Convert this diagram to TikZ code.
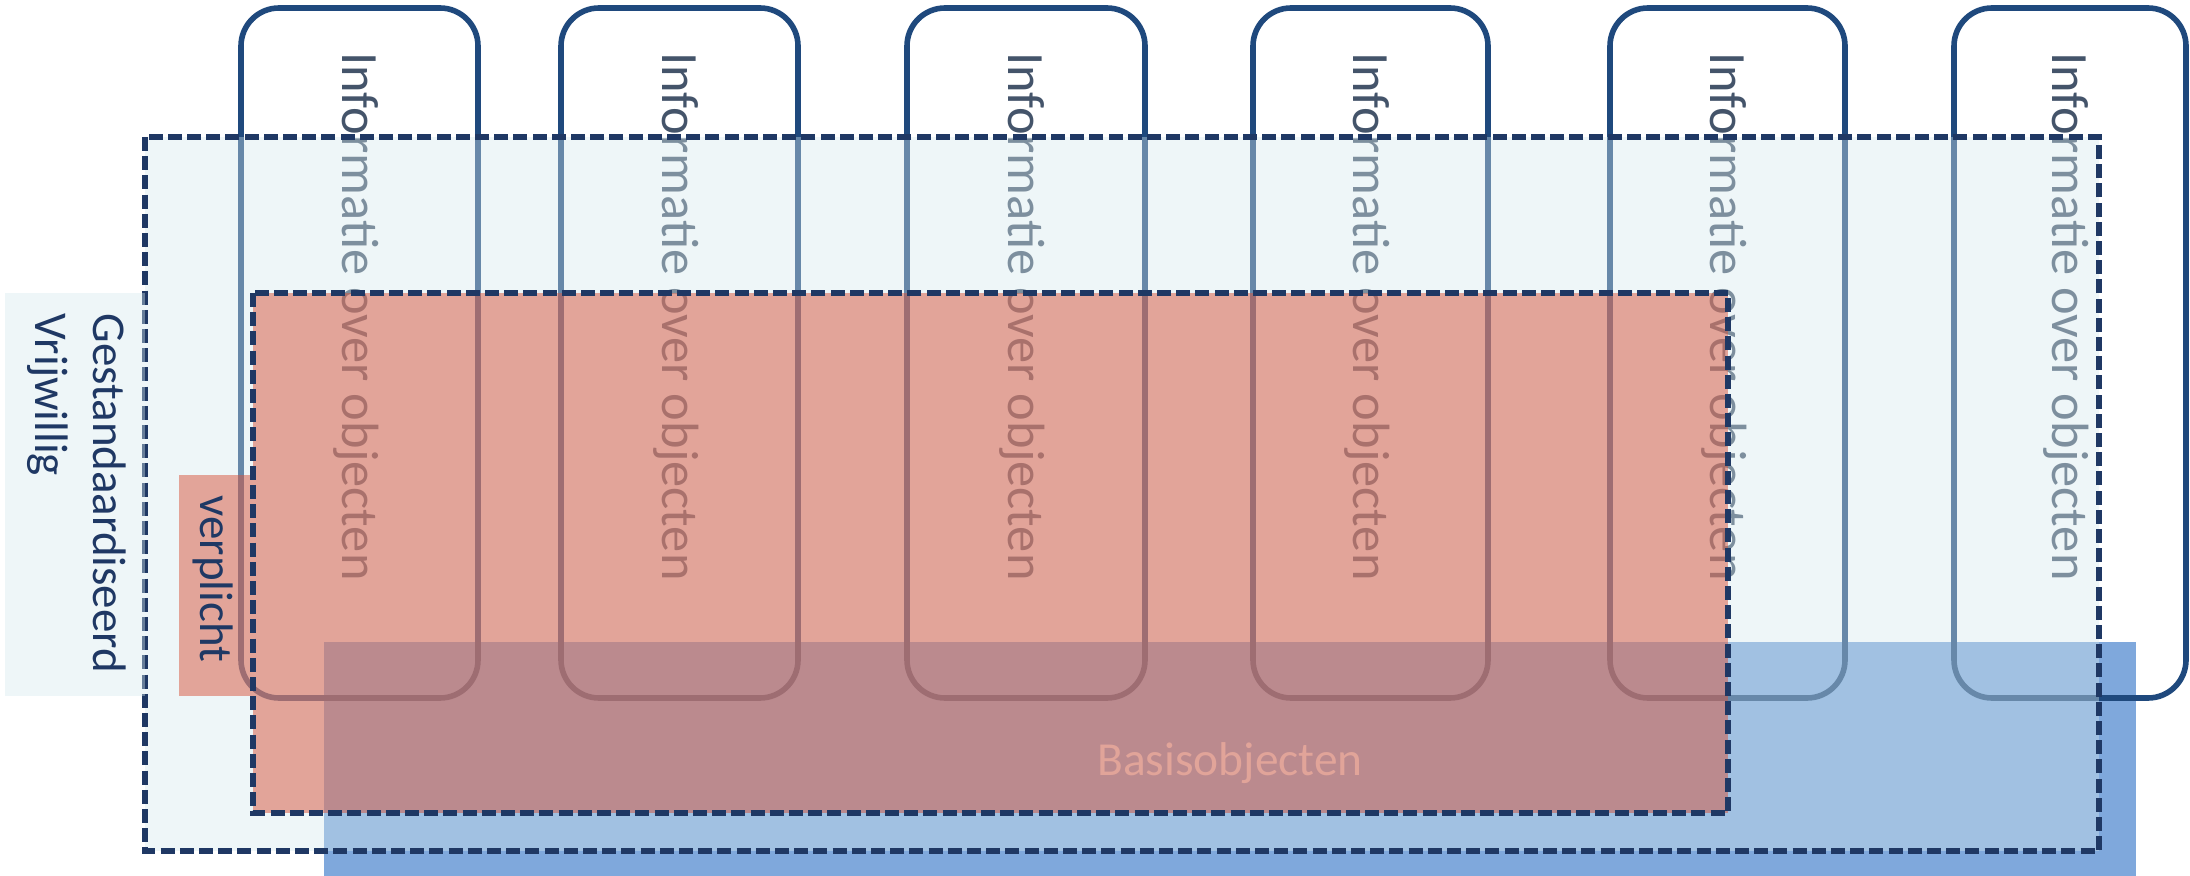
\documentclass[tikz,border=0pt]{standalone}
\usepackage{fontspec}
\setmainfont{Carlito}
\definecolor{boxline}{HTML}{1F497D}
\definecolor{infotext}{HTML}{44546A}
\definecolor{navy}{HTML}{1F3864}
\definecolor{palefill}{HTML}{D4E8ED}
\definecolor{redfill}{HTML}{D6543C}
\definecolor{basisblue}{HTML}{7FA8DC}
\tikzset{
  infobox/.style={draw=boxline, line width=2.8pt, rounded corners=19pt},
  infolabel/.style={rotate=-90, anchor=base west, inner sep=0pt, text=infotext, font=\fontsize{26.2pt}{31pt}\selectfont},
  dashedframe/.style={draw=navy, line width=2.6pt, dash pattern=on 7pt off 2.6pt},
  palearea/.style={fill=palefill, fill opacity=0.4},
  redarea/.style={fill=redfill, fill opacity=0.5},
  sidelabel/.style={rotate=-90, anchor=base west, inner sep=0pt, text=navy, font=\fontsize{23.5pt}{28.7pt}\selectfont}
}
\begin{document}
\begin{tikzpicture}[x=0.5pt,y=-0.5pt]
\useasboundingbox (0,0) rectangle (2190,876);
% blue basis area
\fill[basisblue] (324,642) rectangle (2136,876);
\node[anchor=base, inner sep=0pt, text=white, font=\fontsize{23.7pt}{28pt}\selectfont] (basis) at (1230,775) {Basisobjecten};
% information boxes
\foreach \l/\r [count=\i] in {241/478, 561/798, 907/1145, 1253/1488, 1610/1845, 1954/2186}{
  \draw[infobox] (\l,8) rectangle (\r,698);
  \node[infolabel] (info\i) at ({(\l+\r)/2-17.5},52) {Informatie over objecten};
}
% voluntary / standardised area
\fill[palearea] (145,137) rectangle (2099,851);
\draw[dashedframe] (145,137) rectangle (2099,851);
\fill[palearea] (5,293) rectangle (145,696);
% mandatory area
\fill[redarea] (253,293) rectangle (1728,813);
\fill[redarea] (179,475) rectangle (253,696);
\draw[dashedframe] (253,293) rectangle (1728,813);
% side labels
\node[sidelabel] (gest) at (93,313) {Gestandaardiseerd};
\node[sidelabel] (vrij) at (35,313) {Vrijwillig};
\node[sidelabel] (verp) at (200,495) {verplicht};
\end{tikzpicture}
\end{document}
